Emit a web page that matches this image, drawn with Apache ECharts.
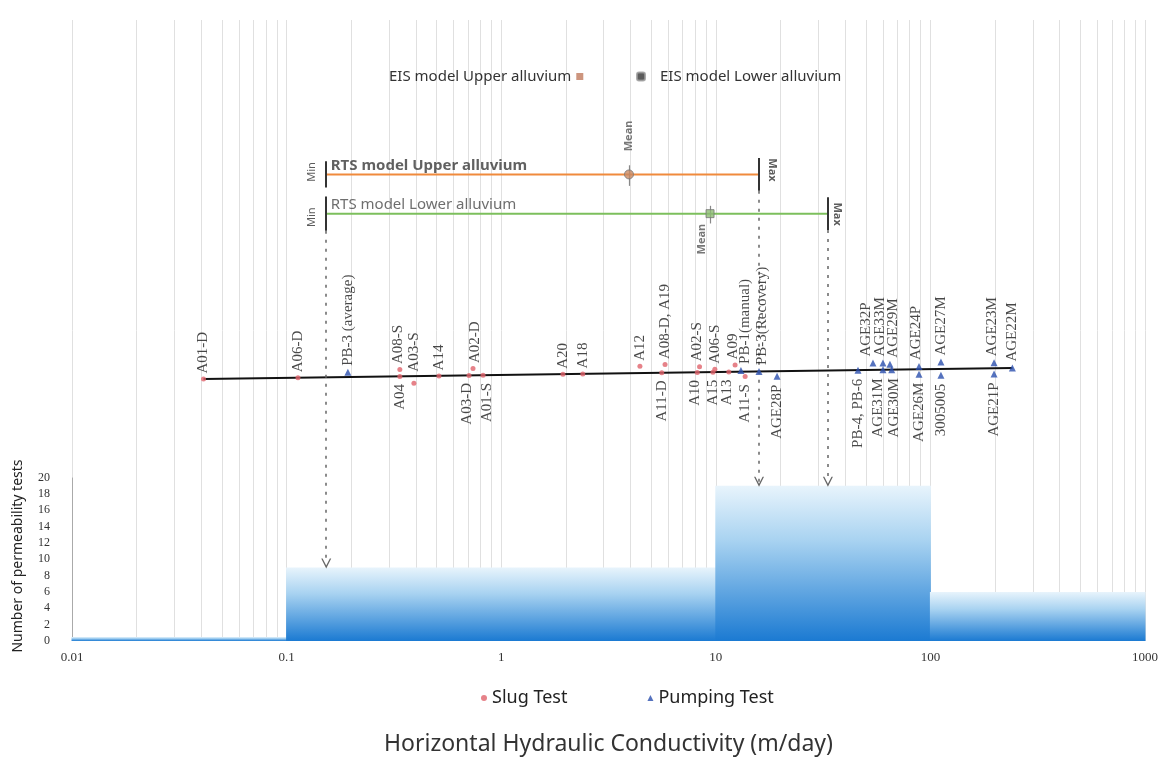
<!DOCTYPE html>
<html><head><meta charset="utf-8">
<script src="https://cdn.jsdelivr.net/npm/echarts@6/dist/echarts.min.js"></script>
<style>html,body{margin:0;padding:0;background:#fff}#c{width:1169px;height:761px}</style>
</head><body><div id="c"></div>
<script>
// ---------------- DATA ----------------
const xTickValues = [0.01, 0.1, 1, 10, 100, 1000];
const yTickMax = 20;

// histogram of permeability tests (bin edges in m/day, counts)
const binEdges = [0.01, 0.1, 1, 10, 100, 1000];
const binCounts = [0.5, 9, 9, 19, 6];

// slug tests
const slugNames = ['A01-D','A06-D','A08-S','A04','A03-S','A14','A03-D','A02-D','A01-S','A20','A18','A12','A08-D, A19','A11-D','A10','A02-S','A15','A06-S','A13','A09','A11-S'];
const slugK     = [0.041,0.113,0.337,0.337,0.392,0.513,0.708,0.739,0.823,1.94,2.40,4.43,5.80,5.6,8.2,8.4,9.7,9.9,11.5,12.3,13.7];

// pumping tests
const pumpNames = ['PB-3 (average)','PB-1(manual)','PB-3(Recovery)','AGE28P','PB-4, PB-6','AGE32P','AGE33M','AGE31M','AGE29M','AGE30M','AGE24P','AGE26M','AGE27M','3005005','AGE23M','AGE21P','AGE22M'];
const pumpK     = [0.193,13.1,15.9,19.3,46.0,54.0,60.1,60.1,64.8,66.0,88.5,88.5,112,112,198,198,241];

// RTS model ranges
const rtsNames = ['RTS model Upper alluvium','RTS model Lower alluvium'];
const rtsMin   = [0.153, 0.153];
const rtsMean  = [3.94, 9.4];
const rtsMax   = [15.9, 33.3];

const eisNames = ['EIS model Upper alluvium','EIS model Lower alluvium'];
const legendNames = ['Slug Test','Pumping Test'];

// ---------------- LAYOUT (not data) ----------------
const slugSide = ['t','t','t','b','t','t','b','t','b','t','t','t','t','b','b','t','b','t','b','t','b'];
const slugLane = [0,0,1,0,-1,0,0,1,0,0,0,1,1.2,0,0,0.8,0,0.4,0,1,-0.7];
const slugNudge = [0,0,-2,0,0,0,-2,2,4,0,0,0,0,0,-2,-2,0,0,-2,-2,0];
const pumpSide = ['t','t','t','b','b','t','t','b','t','b','t','b','t','b','t','b','t'];
const pumpLane = [0.7,0.2,0,-0.7,0,1,1,0,0.8,0,0.4,-0.7,1,-0.9,0.8,-0.8,0];
const pumpNudge = [0,4,3,0,0,-7,-3,-5,3,2,-3,0,0,0,-2,0,0];
const rowLeft = 32.05, rowRight = 33.4, laneStep = 0.85;
const rtsRow = [57.1, 52.3];
const rtsColor = ['#f08a3c', '#7cbf5c'];
const Y_MAX = 76;

const serif = 'Liberation Serif';
const sans = 'Noto Sans';

const allK = slugK.concat(pumpK);
const kLo = Math.min.apply(null, allK), kHi = Math.max.apply(null, allK);
function rowAt(k) {
  const t = (Math.log10(k) - Math.log10(kLo)) / (Math.log10(kHi) - Math.log10(kLo));
  return rowLeft + (rowRight - rowLeft) * t;
}
function testPoint(name, k, side, lane, nudge) {
  const top = side === 't';
  const y = rowAt(k) + lane * laneStep;
  const extra = top ? Math.max(0, -lane) * 6 : Math.max(0, lane) * 6;
  return {
    name: name, value: [k, y],
    label: {
      show: true, formatter: name, rotate: 90,
      position: top ? 'top' : 'bottom',
      align: top ? 'left' : 'right', verticalAlign: 'middle',
      distance: (top ? 3 : 5) + extra,
      offset: [0, nudge],
      fontFamily: serif, fontSize: 15, color: '#1a1a1a'
    }
  };
}
function binCountAt(x) {
  for (let i = 0; i < binCounts.length; i++) if (x >= binEdges[i] && x < binEdges[i + 1]) return binCounts[i];
  return 0;
}

const gridVals = [];
for (let e = -2; e < 3; e++) for (let m = 1; m < 10; m++) gridVals.push(+(m * Math.pow(10, e)).toPrecision(3));
gridVals.push(1000);

const chevron = 'path://M0,10L5,0L10,10L8.6,10L5,2.8L1.4,10Z';

// annotation labels (Min / Max / Mean / names)
const annot = [];
const lblBase = { show: true, fontFamily: sans, fontSize: 11, fontWeight: 'bold', color: '#333', align: 'center', verticalAlign: 'middle' };
rtsNames.forEach(function (nm, i) {
  const y = rtsRow[i];
  annot.push({ value: [rtsMin[i], y], label: { show: true, formatter: nm, position: [5, -1], align: 'left', verticalAlign: 'bottom', fontFamily: sans, fontSize: 15, fontWeight: i === 0 ? 'bold' : 'normal', color: i === 0 ? '#3a3a3a' : '#4a4a4a' } });
  annot.push({ value: [rtsMin[i], y], label: Object.assign({}, lblBase, { formatter: 'Min', rotate: 90, position: [-14, i === 0 ? -2 : 4], fontWeight: 'normal' }) });
  annot.push({ value: [rtsMax[i], y], label: Object.assign({}, lblBase, { formatter: 'Max', rotate: -90, position: [i === 0 ? 14 : 10, i === 0 ? -4 : 1] }) });
  annot.push({ value: [rtsMean[i], y], label: Object.assign({}, lblBase, { formatter: 'Mean', rotate: 90, color: '#555', position: i === 0 ? [0, -38] : [-8, 26] }) });
});

// ticks for min / mean / max
const tickHalf = [[1.6, 1.4, 2.0], [2.1, 1.2, 2.0]];
const tickLines = [];
rtsNames.forEach(function (nm, i) {
  const y = rtsRow[i];
  [rtsMin[i], rtsMean[i], rtsMax[i]].forEach(function (x, j) {
    tickLines.push([{ coord: [x, y - tickHalf[i][j]] }, { coord: [x, y + tickHalf[i][j] * (j === 1 ? 0.8 : 1)] }]);
  });
});
tickLines.forEach(function (seg, idx) {
  const j = idx % 3;
  seg[0].lineStyle = { color: j === 1 ? '#888' : '#333', width: j === 1 ? 1.2 : 2 };
});

// dashed arrows into histogram
const arrows = [
  [{ coord: [rtsMin[1], rtsRow[1] - tickHalf[1][0]] }, { coord: [rtsMin[1], binCountAt(rtsMin[1]) + 0.5] }],
  [{ coord: [rtsMax[0], rtsRow[0] - tickHalf[0][2]] }, { coord: [rtsMax[0], binCountAt(rtsMax[0]) + 0.5] }],
  [{ coord: [rtsMax[1], rtsRow[1] - tickHalf[1][2]] }, { coord: [rtsMax[1], binCountAt(rtsMax[1]) + 0.5] }]
];

const chart = echarts.init(document.getElementById('c'));
chart.setOption({
  animation: false,
  backgroundColor: '#fff',
  grid: { left: 72, right: 24, top: 20, bottom: 120 },
  xAxis: {
    type: 'log', logBase: 10, min: xTickValues[0], max: xTickValues[xTickValues.length - 1],
    axisLine: { show: false }, axisTick: { show: false }, splitLine: { show: false },
    axisLabel: { margin: 10, fontFamily: serif, fontSize: 13, color: '#333',
      formatter: function (v) { return String(Number(v.toPrecision(3))); } },
    name: 'Horizontal Hydraulic Conductivity (m/day)', nameLocation: 'middle', nameGap: 92,
    nameTextStyle: { fontFamily: sans, fontSize: 23, color: '#333' }
  },
  yAxis: {
    type: 'value', min: 0, max: Y_MAX, interval: 2,
    axisLine: { show: false }, axisTick: { show: false }, splitLine: { show: false },
    axisLabel: { margin: 22, fontFamily: serif, fontSize: 12, color: '#333',
      formatter: function (v) { return v <= yTickMax ? String(v) : ''; } }
  },
  graphic: [{
    type: 'text', x: 18, y: 556, rotation: Math.PI / 2,
    style: { text: 'Number of permeability tests', font: '14px "Noto Sans"', fill: '#222', align: 'center', verticalAlign: 'middle' }
  }],
  legend: [
    { data: [{ name: eisNames[0], icon: 'rect' }], left: 384, top: 64, align: 'right', selectedMode: false,
      itemWidth: 7, itemHeight: 7, textStyle: { fontFamily: sans, fontSize: 15, color: '#333' } },
    { data: [{ name: eisNames[1], icon: 'roundRect' }], left: 631, top: 64, align: 'left', selectedMode: false,
      itemWidth: 8, itemHeight: 8, textStyle: { fontFamily: sans, fontSize: 15, color: '#333', padding: [0, 0, 0, 10] } },
    { data: [{ name: legendNames[0], icon: 'circle' }, { name: legendNames[1], icon: 'triangle' }], left: 476, top: 684,
      selectedMode: false, itemGap: 80, itemWidth: 6, itemHeight: 6, textStyle: { fontFamily: sans, fontSize: 18, color: '#222' } }
  ],
  series: [
    { // vertical log gridlines + y axis stub
      type: 'line', data: [], silent: true, z: 0, zlevel: 0,
      markLine: {
        silent: true, symbol: 'none', label: { show: false }, animation: false, z: 0,
        lineStyle: { color: '#e0e0e0', width: 1, type: 'solid' },
        data: gridVals.map(function (v) { return { xAxis: v }; }).concat([
          [{ coord: [xTickValues[0], 0], lineStyle: { color: '#aaa', width: 1, type: 'solid' } }, { coord: [xTickValues[0], yTickMax] }]
        ])
      }
    },
    { // histogram
      type: 'custom', z: 2, silent: true,
      data: binCounts.map(function (c, i) { return [binEdges[i], binEdges[i + 1], c]; }),
      encode: { x: [0, 1], y: 2 },
      renderItem: function (params, api) {
        const p0 = api.coord([api.value(0), api.value(2)]);
        const p1 = api.coord([api.value(1), 0]);
        return { type: 'rect', shape: { x: p0[0] - 0.5, y: p0[1], width: p1[0] - p0[0] + 1, height: p1[1] - p0[1] },
          style: { fill: new echarts.graphic.LinearGradient(0, 0, 0, 1, [{ offset: 0, color: '#e8f4fc' }, { offset: 0.35, color: '#a9d3f1' }, { offset: 1, color: '#1b7ad2' }]) } };
      }
    },
    { // dashed arrows
      type: 'line', data: [], silent: true, z: 3,
      markLine: {
        silent: true, symbol: ['none', chevron], symbolSize: [10, 10], label: { show: false }, z: 6,
        lineStyle: { color: '#666', width: 1.5, type: [3, 6] },
        data: arrows
      }
    },
    { // RTS upper range
      type: 'line', name: rtsNames[0], data: [[rtsMin[0], rtsRow[0]], [rtsMax[0], rtsRow[0]]], showSymbol: false, silent: true,
      lineStyle: { color: rtsColor[0], width: 2 }, z: 4,
      markLine: { silent: true, symbol: 'none', label: { show: false }, z: 6, lineStyle: { type: 'solid' }, data: tickLines }
    },
    { // RTS lower range
      type: 'line', name: rtsNames[1], data: [[rtsMin[1], rtsRow[1]], [rtsMax[1], rtsRow[1]]], showSymbol: false, silent: true,
      lineStyle: { color: rtsColor[1], width: 2 }, z: 4
    },
    { // means
      type: 'scatter', silent: true, z: 7,
      data: [
        { value: [rtsMean[0], rtsRow[0]], symbol: 'circle', symbolSize: 9, itemStyle: { color: '#c98a63', borderColor: '#777', borderWidth: 1 } },
        { value: [rtsMean[1], rtsRow[1]], symbol: 'rect', symbolSize: 8, itemStyle: { color: '#8dbb74', borderColor: '#777', borderWidth: 1 } }
      ]
    },
    { // annotation texts
      type: 'scatter', silent: true, z: 7, symbolSize: 1, itemStyle: { color: 'rgba(0,0,0,0)' }, data: annot
    },
    { // black test line
      type: 'line', data: [[kLo, rowAt(kLo)], [kHi, rowAt(kHi)]], showSymbol: false, silent: true,
      lineStyle: { color: '#111', width: 2 }, z: 5
    },
    {
      type: 'scatter', name: legendNames[0], symbol: 'circle', symbolSize: 5, z: 8,
      itemStyle: { color: '#e0636b' },
      data: slugNames.map(function (n, i) { return testPoint(n, slugK[i], slugSide[i], slugLane[i], slugNudge[i]); })
    },
    {
      type: 'scatter', name: legendNames[1], symbol: 'triangle', symbolSize: 7, z: 8,
      itemStyle: { color: '#2a4fae' },
      data: pumpNames.map(function (n, i) { return testPoint(n, pumpK[i], pumpSide[i], pumpLane[i], pumpNudge[i]); })
    },
    { type: 'scatter', name: eisNames[0], data: [], itemStyle: { color: '#c07a5e' } },
    { type: 'scatter', name: eisNames[1], data: [], itemStyle: { color: '#333', borderColor: '#999', borderWidth: 1 } }
  ]
});
</script></body></html>
